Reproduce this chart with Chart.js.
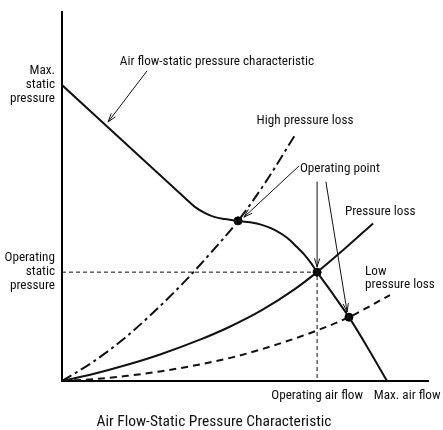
<!DOCTYPE html>
<html>
<head>
<meta charset="utf-8">
<script src="https://cdn.jsdelivr.net/npm/chart.js@4.4.1/dist/chart.umd.min.js"></script>
<style>
  html, body { margin: 0; padding: 0; background: #fff; }
</style>
</head>
<body>
<canvas id="fanChart" width="443" height="430"></canvas>
<script>
// relative units, both axes 0..100
const fanFlow     = [0, 33.6, 36.3, 39.1, 41.8, 44.5, 48.1, 51.4, 54.6, 58.2, 61.5, 64.2, 66.1, 68.0, 69.7, 74.0, 78.4, 83.6, 88.8];
const fanPressure = [80.2, 49.6, 47.2, 45.5, 44.4, 43.9, 43.4, 43.0, 42.3, 40.9, 38.8, 36.3, 34.4, 32.0, 29.5, 23.6, 17.3, 8.9, 0];

const lossFlow     = [0, 8.5, 17.8, 26.8, 37.7, 45.4, 54.6, 63.6, 69.7, 77.3, 85.0];
const lossPressure = [0, 1.9, 4.4, 7.2, 11.2, 14.5, 19.2, 24.9, 29.5, 35.9, 42.7];

const highLossFlow     = [0, 8.5, 17.8, 30.9, 39.9, 48.1, 55.5, 63.7];
const highLossPressure = [0, 5.2, 12.2, 24.3, 33.9, 43.4, 53.7, 66.7];

const lowLossFlow     = [0, 8.5, 17.8, 26.8, 37.7, 48.1, 59.0, 69.7, 78.4, 89.6];
const lowLossPressure = [0, 0.5, 1.4, 2.6, 4.5, 6.8, 10.0, 13.7, 17.3, 23.3];

// marked points: [flow, pressure]
const pointFlow     = [48.1, 69.7, 78.4];
const pointPressure = [43.4, 29.5, 17.3];

const opFlow = 69.7;
const opPressure = 29.5;

const xTickValues = [69.7, 94.3];
const xTickLabels = ['Operating air flow', 'Max. air flow'];
const yTickValues = [80.2, 29.5];
const yTickLabels = [['Max.', 'static', 'pressure'], ['Operating', 'static', 'pressure']];

const FONT = "'Liberation Sans Narrow', 'Roboto Condensed', 'Liberation Sans', Arial, sans-serif";

// callout texts and arrows, in data units
const notes = [
  { text: 'Air flow-static pressure characteristic', x: 15.8, y: 86.4, align: 'left' },
  { text: 'High pressure loss', x: 66.4, y: 70.5, align: 'center' },
  { text: 'Operating point', x: 65.0, y: 57.5, align: 'left' },
  { text: 'Pressure loss', x: 77.3, y: 45.8, align: 'left' },
  { text: 'Low', x: 82.8, y: 29.5, align: 'left' },
  { text: 'pressure loss', x: 82.8, y: 26.0, align: 'left' }
];
const arrows = [
  { from: [23.2, 84.0], to: [12.6, 70.2] },
  { from: [64.8, 58.3], to: [49.7, 44.4] },
  { from: [69.7, 54.0], to: [69.7, 30.9] },
  { from: [72.1, 54.0], to: [77.9, 18.7] }
];

function xy(xs, ys) {
  return xs.map((x, i) => ({ x: x, y: ys[i] }));
}

const calloutPlugin = {
  id: 'callouts',
  afterDatasetsDraw(chart) {
    const ctx = chart.ctx;
    const sx = chart.scales.x, sy = chart.scales.y;
    ctx.save();
    ctx.fillStyle = '#111';
    ctx.font = '13.2px ' + FONT;
    ctx.textBaseline = 'middle';
    notes.forEach(n => {
      ctx.textAlign = n.align;
      ctx.fillText(n.text, sx.getPixelForValue(n.x), sy.getPixelForValue(n.y));
    });

    ctx.strokeStyle = '#111';
    ctx.lineWidth = 1;
    arrows.forEach(a => {
      const x1 = sx.getPixelForValue(a.from[0]), y1 = sy.getPixelForValue(a.from[1]);
      const x2 = sx.getPixelForValue(a.to[0]), y2 = sy.getPixelForValue(a.to[1]);
      const ang = Math.atan2(y2 - y1, x2 - x1);
      ctx.beginPath();
      ctx.moveTo(x1, y1);
      ctx.lineTo(x2, y2);
      const len = 9, spread = 0.3;
      ctx.moveTo(x2 - len * Math.cos(ang - spread), y2 - len * Math.sin(ang - spread));
      ctx.lineTo(x2, y2);
      ctx.lineTo(x2 - len * Math.cos(ang + spread), y2 - len * Math.sin(ang + spread));
      ctx.stroke();
    });
    ctx.restore();
  }
};

const ctx = document.getElementById('fanChart').getContext('2d');

new Chart(ctx, {
  type: 'scatter',
  data: {
    datasets: [
      {
        label: 'Reference',
        data: [{ x: 0, y: opPressure }, { x: opFlow, y: opPressure }, { x: opFlow, y: 0 }],
        showLine: true,
        borderColor: '#111',
        borderWidth: 1,
        borderDash: [4, 3],
        pointRadius: 0
      },
      {
        label: 'Low pressure loss',
        data: xy(lowLossFlow, lowLossPressure),
        showLine: true,
        borderColor: '#111',
        borderWidth: 2,
        borderDash: [7, 5],
        cubicInterpolationMode: 'monotone',
        pointRadius: 0
      },
      {
        label: 'High pressure loss',
        data: xy(highLossFlow, highLossPressure),
        showLine: true,
        borderColor: '#111',
        borderWidth: 2,
        borderDash: [11, 4, 3, 4],
        cubicInterpolationMode: 'monotone',
        pointRadius: 0
      },
      {
        label: 'Pressure loss',
        data: xy(lossFlow, lossPressure),
        showLine: true,
        borderColor: '#111',
        borderWidth: 2,
        cubicInterpolationMode: 'monotone',
        pointRadius: 0
      },
      {
        label: 'Air flow-static pressure characteristic',
        data: xy(fanFlow, fanPressure),
        showLine: true,
        borderColor: '#111',
        borderWidth: 2,
        cubicInterpolationMode: 'monotone',
        pointRadius: 0
      },
      {
        label: 'Operating point',
        data: xy(pointFlow, pointPressure),
        showLine: false,
        pointRadius: 4,
        pointBackgroundColor: '#000',
        pointBorderColor: '#000'
      }
    ]
  },
  options: {
    responsive: false,
    animation: false,
    layout: { padding: { left: 0, right: 15, top: 12, bottom: 0 } },
    plugins: {
      legend: { display: false },
      tooltip: { enabled: false },
      title: {
        display: true,
        position: 'bottom',
        text: 'Air Flow-Static Pressure Characteristic',
        color: '#111',
        font: { family: FONT, size: 15.5, weight: 'normal', lineHeight: 1 },
        padding: { top: 11.5, bottom: 0 }
      }
    },
    scales: {
      x: {
        type: 'linear',
        min: 0,
        max: 100,
        grid: { display: false, drawTicks: false },
        border: { display: true, color: '#000', width: 2 },
        afterBuildTicks: axis => { axis.ticks = xTickValues.map(v => ({ value: v })); },
        afterFit: axis => {
          axis.height = 22;
          axis.paddingLeft = 0;
          axis.paddingRight = 0;
        },
        ticks: {
          autoSkip: false,
          maxRotation: 0,
          padding: 7,
          color: '#111',
          font: { family: FONT, size: 13.2 },
          callback: v => xTickLabels[xTickValues.indexOf(v)]
        }
      },
      y: {
        type: 'linear',
        min: 0,
        max: 100,
        grid: { display: false, drawTicks: false },
        border: { display: true, color: '#000', width: 2 },
        afterBuildTicks: axis => { axis.ticks = yTickValues.map(v => ({ value: v })); },
        afterFit: axis => {
          axis.width = 62;
          axis.paddingTop = 0;
          axis.paddingBottom = 0;
        },
        ticks: {
          autoSkip: false,
          padding: 7,
          color: '#111',
          font: { family: FONT, size: 13.2, lineHeight: 1.06 },
          callback: v => yTickLabels[yTickValues.indexOf(v)]
        }
      }
    }
  },
  plugins: [calloutPlugin]
});
</script>
</body>
</html>
